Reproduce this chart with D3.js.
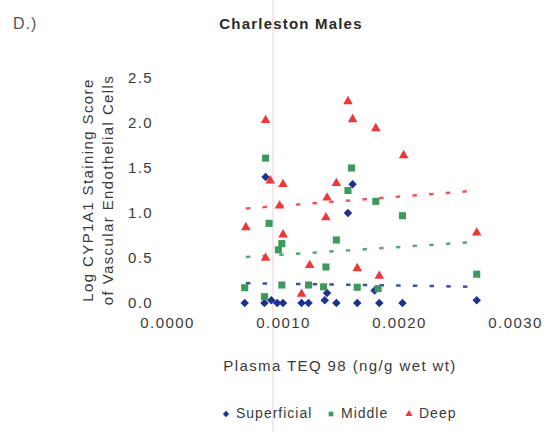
<!DOCTYPE html>
<html>
<head>
<meta charset="utf-8">
<script src="https://cdn.jsdelivr.net/npm/d3@7"></script>
<style>
  html, body { margin: 0; padding: 0; background: #fff; }
  svg { display: block; font-family: "Liberation Sans", Arial, sans-serif; }
</style>
</head>
<body>
<svg id="chart" width="552" height="432"></svg>
<script>
// ---- Data ----
const seriesNames = ["Superficial", "Middle", "Deep"];

const superficialX = [0.00085, 0.00156, 0.00160, 0.00067, 0.00084, 0.00090, 0.00095, 0.00100, 0.00116, 0.00122, 0.00138, 0.00136, 0.00146, 0.00164, 0.00179, 0.00183, 0.00203, 0.00267];
const superficialY = [1.40, 1.00, 1.32, 0.00, 0.00, 0.03, 0.00, 0.00, 0.00, 0.00, 0.11, 0.03, 0.00, 0.00, 0.14, 0.00, 0.00, 0.03];

const middleX = [0.00085, 0.00159, 0.00156, 0.00180, 0.00203, 0.00088, 0.00146, 0.00099, 0.00096, 0.00137, 0.00267, 0.00067, 0.00099, 0.00122, 0.00135, 0.00164, 0.00182, 0.00084];
const middleY = [1.61, 1.50, 1.25, 1.13, 0.97, 0.885, 0.70, 0.66, 0.59, 0.40, 0.32, 0.17, 0.20, 0.20, 0.18, 0.175, 0.16, 0.07];

const deepX = [0.00085, 0.00089, 0.00100, 0.00097, 0.00068, 0.00100, 0.00085, 0.00123, 0.00116, 0.00156, 0.00160, 0.00180, 0.00204, 0.00146, 0.00138, 0.00137, 0.00267, 0.00164, 0.00183];
const deepY = [2.03, 1.36, 1.32, 1.08, 0.84, 0.76, 0.50, 0.42, 0.10, 2.24, 2.04, 1.94, 1.64, 1.33, 1.17, 0.95, 0.78, 0.385, 0.30];

// linear trend lines (endpoints)
const trendX = [0.00068, 0.00268];
const trendSuperficial = [0.22, 0.18];
const trendMiddle = [0.51, 0.68];
const trendDeep = [1.05, 1.25];

const xTicks = [0, 0.001, 0.002, 0.003];
const yTicks = [0, 0.5, 1.0, 1.5, 2.0, 2.5];

// ---- Build ----
const colors = { Superficial: "#1c3190", Middle: "#3b9a5c", Deep: "#ee3838" };
const series = [
  { name: "Superficial", xs: superficialX, ys: superficialY, trend: trendSuperficial, shape: "diamond" },
  { name: "Middle", xs: middleX, ys: middleY, trend: trendMiddle, shape: "square" },
  { name: "Deep", xs: deepX, ys: deepY, trend: trendDeep, shape: "triangle" }
];

const svg = d3.select("#chart");
const x = d3.scaleLinear().domain([0, 0.003]).range([167, 515]);
const y = d3.scaleLinear().domain([0, 2.5]).range([303, 78]);

// faint scan artifact line
svg.append("line").attr("x1", 273).attr("x2", 273).attr("y1", 0).attr("y2", 432)
  .attr("stroke", "#f2dfe3").attr("stroke-width", 1.5);

const textColor = "#3a3a3a";

// Axes (no lines, labels only)
const xAxis = svg.append("g").attr("transform", "translate(0,303)")
  .call(d3.axisBottom(x).tickValues(xTicks).tickFormat(d3.format(".4f")).tickSize(0).tickPadding(14));
xAxis.select(".domain").remove();
xAxis.selectAll("text").attr("font-size", 15).attr("fill", textColor)
  .attr("font-family", "Liberation Sans, Arial, sans-serif").style("letter-spacing", "1.4px");

const yAxis = svg.append("g").attr("transform", "translate(167,0)")
  .call(d3.axisLeft(y).tickValues(yTicks).tickFormat(d3.format(".1f")).tickSize(0).tickPadding(14));
yAxis.select(".domain").remove();
yAxis.selectAll("text").attr("font-size", 15).attr("fill", textColor)
  .attr("font-family", "Liberation Sans, Arial, sans-serif").style("letter-spacing", "1.4px");

// Trend lines
const line = d3.line().x(d => x(d[0])).y(d => y(d[1]));
series.forEach(s => {
  svg.append("path")
    .datum(trendX.map((tx, i) => [tx, s.trend[i]]))
    .attr("d", line)
    .attr("fill", "none")
    .attr("stroke", colors[s.name])
    .attr("stroke-opacity", 0.85)
    .attr("stroke-width", 2.5)
    .attr("stroke-dasharray", "4.5,12.2");
});

// Markers
function symbolPath(shape) {
  if (shape === "triangle") return d3.symbol().type(d3.symbolTriangle).size(40)();
  if (shape === "square") return d3.symbol().type(d3.symbolSquare).size(50)();
  return d3.symbol().type(d3.symbolSquare).size(36)();
}
series.forEach(s => {
  const pts = s.xs.map((vx, i) => [vx, s.ys[i]]);
  svg.append("g").selectAll("path").data(pts).join("path")
    .attr("d", symbolPath(s.shape))
    .attr("transform", d => `translate(${x(d[0])},${y(d[1])})` + (s.shape === "diamond" ? " rotate(45)" : ""))
    .attr("fill", colors[s.name]);
});

// Titles
svg.append("text").attr("x", 13).attr("y", 29).text("D.)")
  .attr("font-size", 16).attr("fill", "#555").style("letter-spacing", "1px");
svg.append("text").attr("x", 291).attr("y", 29).attr("text-anchor", "middle")
  .text("Charleston Males").attr("font-size", 15).attr("font-weight", "bold")
  .attr("fill", "#2a2a2a").style("letter-spacing", "1.2px");

svg.append("text").attr("x", 340).attr("y", 371).attr("text-anchor", "middle")
  .text("Plasma TEQ 98 (ng/g wet wt)").attr("font-size", 15).attr("fill", textColor)
  .style("letter-spacing", "1.4px");

const yl = svg.append("text").attr("transform", "translate(93,190) rotate(-90)")
  .attr("text-anchor", "middle").attr("font-size", 15).attr("fill", textColor)
  .style("letter-spacing", "1.4px");
yl.append("tspan").attr("x", 0).attr("dy", 0).text("Log CYP1A1 Staining Score");
yl.append("tspan").attr("x", 0).attr("dy", 20).text("of Vascular Endothelial Cells");

// Legend
const legend = svg.append("g");
const legendItems = [
  { name: seriesNames[0], shape: "diamond", sx: 226, tx: 236 },
  { name: seriesNames[1], shape: "square", sx: 331, tx: 341 },
  { name: seriesNames[2], shape: "triangle", sx: 409, tx: 419 }
];
legendItems.forEach(it => {
  const sym = it.shape === "triangle" ? d3.symbol().type(d3.symbolTriangle).size(22)()
    : it.shape === "square" ? d3.symbol().type(d3.symbolSquare).size(22)()
    : d3.symbol().type(d3.symbolSquare).size(20)();
  legend.append("path").attr("d", sym)
    .attr("transform", `translate(${it.sx},414)` + (it.shape === "diamond" ? " rotate(45)" : ""))
    .attr("fill", colors[it.name]);
  legend.append("text").attr("x", it.tx).attr("y", 418).text(it.name)
    .attr("font-size", 14).attr("fill", textColor).style("letter-spacing", "1px");
});
</script>
</body>
</html>
